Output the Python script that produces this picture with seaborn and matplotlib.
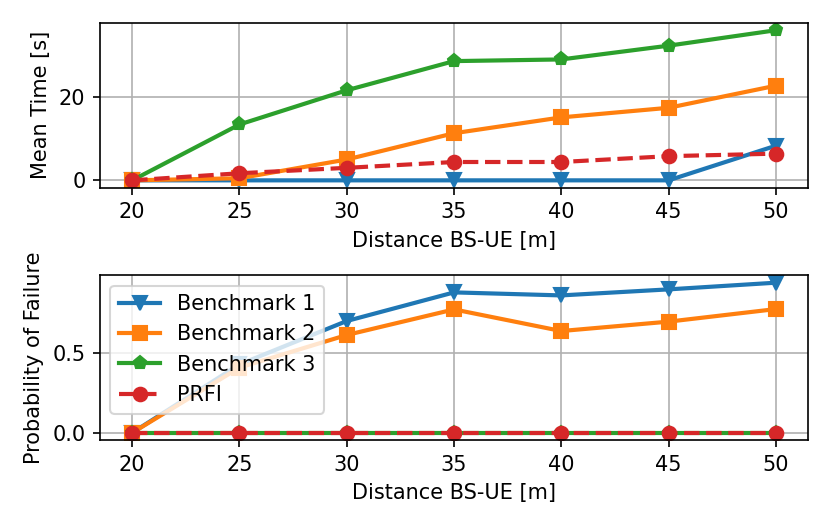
import matplotlib
matplotlib.use("Agg")
import matplotlib.pyplot as plt
import seaborn as sns
import pandas as pd

distances = [20, 25, 30, 35, 40, 45, 50]
series_names = ["Benchmark 1", "Benchmark 2", "Benchmark 3", "PRFI"]

time_b1 = [0.0, 0.0, 0.0, 0.0, 0.0, 0.0, 8.3]
time_b2 = [0.0, 0.5, 5.0, 11.3, 15.1, 17.4, 22.7]
time_b3 = [0.0, 13.4, 21.6, 28.6, 29.0, 32.3, 36.0]
time_prfi = [0.0, 1.7, 3.0, 4.4, 4.4, 5.8, 6.4]

fail_b1 = [0.0, 0.43, 0.703, 0.883, 0.864, 0.902, 0.944]
fail_b2 = [0.0, 0.41, 0.615, 0.776, 0.640, 0.699, 0.778]
fail_b3 = [0.0, 0.0, 0.0, 0.0, 0.0, 0.0, 0.0]
fail_prfi = [0.0, 0.0, 0.0, 0.0, 0.0, 0.0, 0.0]

xlabel = "Distance BS-UE [m]"
ylabel_top = "Mean Time [s]"
ylabel_bottom = "Probability of Failure"


def long_df(vals):
    rows = []
    for name, v in zip(series_names, vals):
        for d, y in zip(distances, v):
            rows.append({"Distance": d, "Value": y, "Method": name})
    return pd.DataFrame(rows)


df_time = long_df([time_b1, time_b2, time_b3, time_prfi])
df_fail = long_df([fail_b1, fail_b2, fail_b3, fail_prfi])

palette = {"Benchmark 1": "#1f77b4", "Benchmark 2": "#ff7f0e",
           "Benchmark 3": "#2ca02c", "PRFI": "#d62728"}
markers = {"Benchmark 1": "v", "Benchmark 2": "s", "Benchmark 3": "p", "PRFI": "o"}
dashes = {"Benchmark 1": "", "Benchmark 2": "", "Benchmark 3": "", "PRFI": (3.7, 1.6)}

DPI = 150
plt.rcParams['font.family'] = ['DejaVu Sans']
fig, axes = plt.subplots(2, 1, figsize=(830 / DPI, 529 / DPI), dpi=DPI)
fig.subplots_adjust(left=0.1205, right=0.9735, top=0.957, bottom=0.1677, hspace=0.529)

for ax, df, yl in zip(axes, [df_time, df_fail], [ylabel_top, ylabel_bottom]):
    sns.lineplot(data=df, x="Distance", y="Value", hue="Method", style="Method",
                 hue_order=series_names, style_order=series_names,
                 palette=palette, markers=markers, dashes=dashes,
                 markersize=6.5, markeredgewidth=1.0, linewidth=2.0, ax=ax)
    for line in ax.get_lines():
        line.set_markeredgecolor(line.get_color())
    ax.set_xlabel(xlabel)
    ax.set_ylabel(yl)
    ax.set_xticks(distances)
    ax.grid(True, color="#b0b0b0", linewidth=0.8)
    ax.set_axisbelow(True)
    for s in ax.spines.values():
        s.set_linewidth(0.8)
        s.set_color("black")

axes[0].get_legend().remove()
leg = axes[1].legend(loc="upper left", fontsize=10)
for h in leg.legend_handles:
    h.set_markeredgecolor(h.get_color())
axes[0].set_yticks([0, 20])
axes[1].set_yticks([0.0, 0.5])

fig.savefig("out.png", dpi=DPI)
